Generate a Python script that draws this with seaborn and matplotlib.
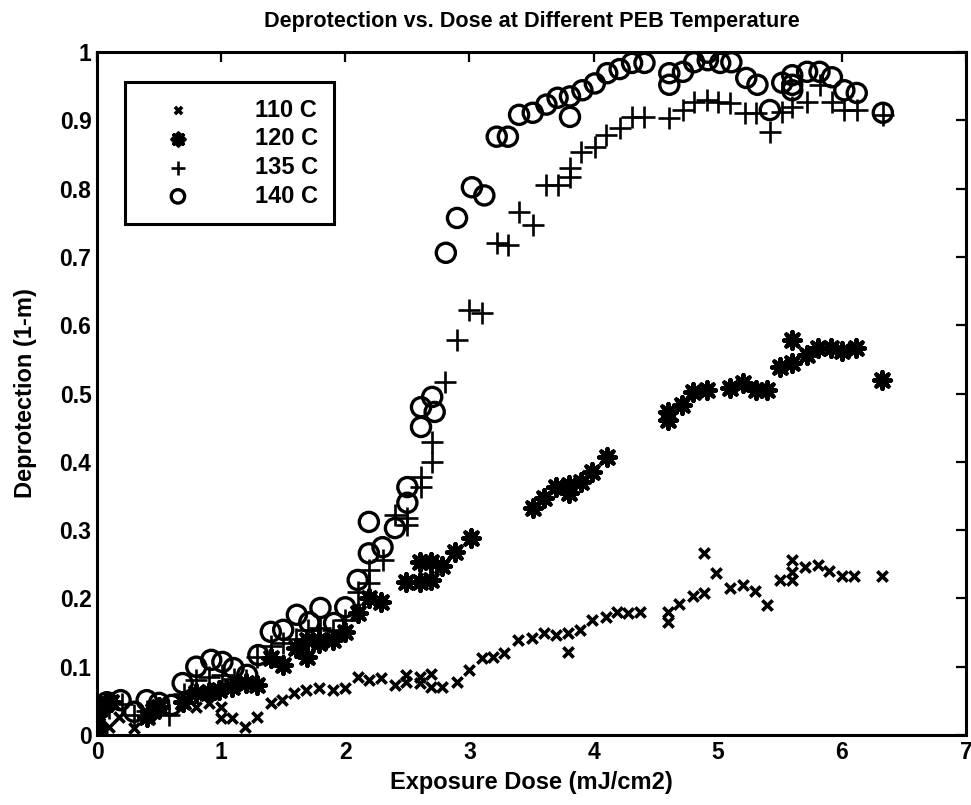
import matplotlib
matplotlib.use("Agg")
import matplotlib.pyplot as plt
import seaborn as sns
import pandas as pd

# Exposure dose (mJ/cm2) and deprotection (1-m) for each PEB temperature
dose_110 = [0, 0, 0, 0.1, 0.18, 0.3, 0.44, 0.69, 0.8, 0.9, 1.0, 1.0, 1.09, 1.19, 1.29, 1.4,
            1.49, 1.59, 1.68, 1.79, 1.9, 2.0, 2.1, 2.19, 2.29, 2.4, 2.49, 2.49, 2.6, 2.6,
            2.69, 2.69, 2.78, 2.9, 3.0, 3.1, 3.19, 3.28, 3.39, 3.5, 3.6, 3.7, 3.79, 3.79,
            3.89, 3.99, 4.1, 4.19, 4.28, 4.37, 4.6, 4.6, 4.69, 4.8, 4.89, 4.89, 4.99, 5.1,
            5.2, 5.3, 5.4, 5.5, 5.6, 5.6, 5.6, 5.7, 5.81, 5.9, 6.0, 6.1, 6.32]
dep_110 = [0.0, 0.01, 0.02, 0.012, 0.026, 0.01, 0.037, 0.047, 0.041, 0.047, 0.041, 0.025,
           0.025, 0.012, 0.026, 0.047, 0.051, 0.061, 0.066, 0.069, 0.066, 0.069, 0.085,
           0.081, 0.083, 0.073, 0.088, 0.078, 0.085, 0.076, 0.09, 0.07, 0.07, 0.078, 0.095,
           0.113, 0.114, 0.12, 0.139, 0.142, 0.149, 0.146, 0.149, 0.122, 0.154, 0.168,
           0.173, 0.18, 0.178, 0.18, 0.18, 0.165, 0.192, 0.203, 0.208, 0.266, 0.237, 0.215,
           0.22, 0.211, 0.19, 0.227, 0.256, 0.239, 0.227, 0.246, 0.249, 0.24, 0.233, 0.233,
           0.233]

dose_120 = [0, 0, 0, 0, 0.07, 0.11, 0.4, 0.45, 0.5, 0.69, 0.8, 0.9, 0.98, 1.09, 1.2, 1.29,
            1.4, 1.5, 1.6, 1.69, 1.69, 1.79, 1.79, 1.9, 2.0, 2.1, 2.19, 2.29, 2.49, 2.6, 2.69,
            2.6, 2.69, 2.78, 2.88, 3.01, 3.51, 3.6, 3.7, 3.8, 3.8, 3.9, 3.99, 4.11, 4.6, 4.6,
            4.71, 4.8, 4.91, 5.1, 5.2, 5.31, 5.4, 5.5, 5.6, 5.6, 5.72, 5.81, 5.91, 6.0, 6.11,
            6.32]
dep_120 = [0.0, 0.008, 0.015, 0.03, 0.047, 0.048, 0.027, 0.035, 0.041, 0.048, 0.061, 0.063,
           0.066, 0.07, 0.076, 0.073, 0.113, 0.102, 0.127, 0.114, 0.139, 0.134, 0.139,
           0.139, 0.151, 0.178, 0.2, 0.195, 0.224, 0.224, 0.227, 0.253, 0.253, 0.247, 0.268,
           0.288, 0.332, 0.347, 0.363, 0.366, 0.354, 0.37, 0.385, 0.407, 0.473, 0.461,
           0.483, 0.502, 0.505, 0.508, 0.515, 0.505, 0.505, 0.539, 0.545, 0.578, 0.556,
           0.566, 0.566, 0.562, 0.566, 0.52]

dose_135 = [0, 0, 0.1, 0.2, 0.3, 0.4, 0.5, 0.58, 0.7, 0.8, 0.9, 1.01, 1.1, 1.2, 1.29, 1.4,
            1.5, 1.6, 1.7, 1.8, 1.9, 2.0, 2.1, 2.19, 2.19, 2.3, 2.4, 2.5, 2.5, 2.61, 2.61,
            2.7, 2.7, 2.8, 2.9, 3.0, 3.1, 3.22, 3.31, 3.4, 3.51, 3.62, 3.71, 3.81, 3.81, 3.9,
            4.01, 4.1, 4.21, 4.31, 4.41, 4.61, 4.72, 4.81, 4.91, 5.0, 5.1, 5.22, 5.31, 5.42,
            5.52, 5.6, 5.72, 5.82, 5.92, 6.02, 6.12, 6.33]
dep_135 = [0.005, 0.03, 0.04, 0.045, 0.03, 0.035, 0.04, 0.029, 0.06, 0.081, 0.085, 0.088,
           0.082, 0.08, 0.114, 0.13, 0.134, 0.14, 0.154, 0.157, 0.154, 0.168, 0.21, 0.222,
           0.242, 0.256, 0.322, 0.307, 0.318, 0.363, 0.378, 0.4, 0.429, 0.517, 0.578, 0.622,
           0.618, 0.72, 0.717, 0.766, 0.747, 0.805, 0.805, 0.83, 0.817, 0.854, 0.861, 0.878,
           0.888, 0.905, 0.905, 0.903, 0.915, 0.927, 0.93, 0.927, 0.925, 0.911, 0.911,
           0.883, 0.912, 0.92, 0.927, 0.952, 0.927, 0.915, 0.915, 0.908]

dose_140 = [0, 0, 0, 0.08, 0.19, 0.3, 0.4, 0.5, 0.6, 0.69, 0.8, 0.92, 1.01, 1.1, 1.21, 1.3,
            1.4, 1.5, 1.61, 1.71, 1.8, 1.91, 2.0, 2.1, 2.19, 2.19, 2.3, 2.4, 2.5, 2.5, 2.61,
            2.61, 2.72, 2.7, 2.81, 2.9, 3.02, 3.12, 3.22, 3.31, 3.4, 3.51, 3.62, 3.71, 3.81,
            3.81, 3.91, 4.01, 4.11, 4.21, 4.31, 4.41, 4.61, 4.61, 4.72, 4.81, 4.92, 4.92,
            5.02, 5.11, 5.23, 5.32, 5.42, 5.52, 5.6, 5.6, 5.6, 5.72, 5.82, 5.92, 6.02, 6.12,
            6.33]
dep_140 = [0.0, 0.01, 0.037, 0.048, 0.051, 0.034, 0.051, 0.047, 0.044, 0.076, 0.1, 0.11,
           0.107, 0.098, 0.088, 0.117, 0.151, 0.154, 0.176, 0.165, 0.186, 0.164, 0.187,
           0.227, 0.266, 0.312, 0.275, 0.303, 0.34, 0.363, 0.451, 0.48, 0.473, 0.495, 0.706,
           0.757, 0.802, 0.79, 0.876, 0.876, 0.908, 0.911, 0.923, 0.933, 0.935, 0.905,
           0.944, 0.954, 0.969, 0.975, 0.984, 0.984, 0.969, 0.952, 0.971, 0.985, 0.999,
           0.988, 0.984, 0.985, 0.962, 0.952, 0.915, 0.955, 0.966, 0.952, 0.944, 0.971,
           0.971, 0.963, 0.944, 0.94, 0.911]

labels = ["110 C", "120 C", "135 C", "140 C"]
x_ticks = [0, 1, 2, 3, 4, 5, 6, 7]
y_ticks = [0, 0.1, 0.2, 0.3, 0.4, 0.5, 0.6, 0.7, 0.8, 0.9, 1.0]
y_tick_labels = ["0", "0.1", "0.2", "0.3", "0.4", "0.5", "0.6", "0.7", "0.8", "0.9", "1"]

sns.set_style("white")
plt.rcParams["font.family"] = ["Liberation Sans", "DejaVu Sans"]
plt.rcParams["font.weight"] = "bold"
plt.rcParams["text.color"] = "black"
plt.rcParams["axes.labelcolor"] = "black"

fig = plt.figure(figsize=(9.71, 8.05), dpi=100)
ax = fig.add_axes([97 / 971, 1 - 735 / 805, 869 / 971, 683 / 805])

frames = [
    pd.DataFrame({"dose": dose_110, "dep": dep_110}),
    pd.DataFrame({"dose": dose_120, "dep": dep_120}),
    pd.DataFrame({"dose": dose_135, "dep": dep_135}),
    pd.DataFrame({"dose": dose_140, "dep": dep_140}),
]

styles = [
    dict(marker="x", s=55, linewidth=2.6, color="black"),
    dict(marker=(8, 2, 0), s=150, linewidth=3.0, color="black"),
    dict(marker="+", s=230, linewidth=1.9, color="black"),
    dict(marker="o", s=190, linewidth=2.4, facecolor="none", edgecolor="black"),
]

for df, st, lab in zip(frames, styles, labels):
    sns.scatterplot(data=df, x="dose", y="dep", ax=ax, label=lab, zorder=3, **st)

ax.set_xlim(0, 7)
ax.set_ylim(0, 1)
ax.set_xticks(x_ticks)
ax.set_yticks(y_ticks)
ax.set_yticklabels(y_tick_labels)
ax.tick_params(direction="in", length=7, width=1.6, top=True, right=True,
               labelsize=16.5, pad=4, colors="black", labelcolor="black")
for sp in ax.spines.values():
    sp.set_visible(True)
    sp.set_linewidth(2.2)
    sp.set_color("black")

ax.set_title("Deprotection vs. Dose at Different PEB Temperature",
             fontsize=15.6, fontweight="bold", pad=18, color="black")
ax.set_xlabel("Exposure Dose (mJ/cm2)", fontsize=17, fontweight="bold", labelpad=5,
              color="black")
ax.set_ylabel("Deprotection (1-m)", fontsize=17, fontweight="bold", labelpad=16,
              color="black")

leg = ax.legend(loc="upper left", bbox_to_anchor=(0.032, 0.956), frameon=True,
                fancybox=False, edgecolor="black", prop={"size": 17, "weight": "bold"},
                handlelength=3.1, handletextpad=1.7, labelspacing=0.24, borderpad=0.7,
                borderaxespad=0, markerscale=0.7)
for t in leg.get_texts():
    t.set_color("black")
leg.get_frame().set_linewidth(2.2)
leg.get_frame().set_alpha(1)

fig.savefig("out.png", dpi=100, facecolor="white")
